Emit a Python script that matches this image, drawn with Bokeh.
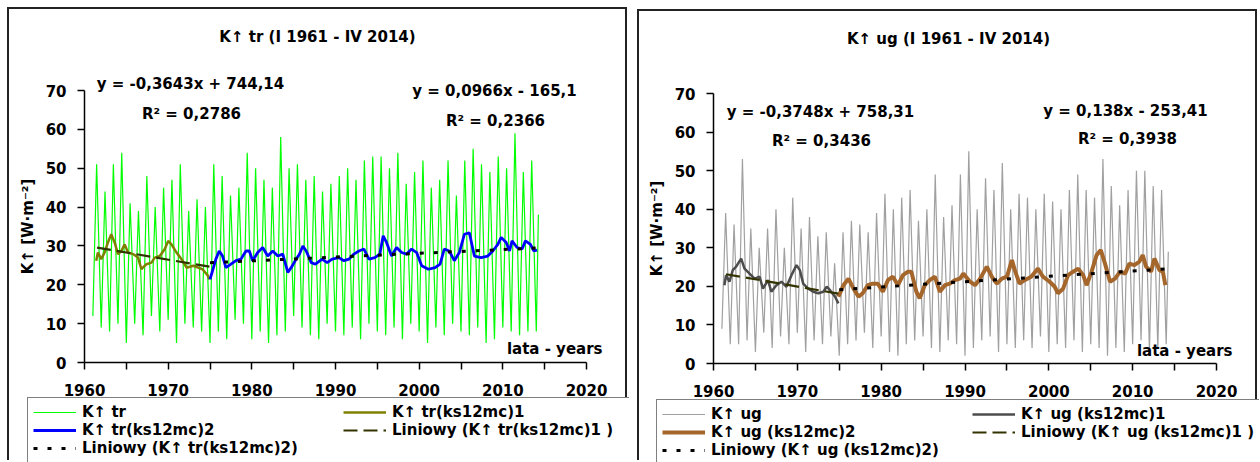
from bokeh.plotting import figure
from bokeh.models import FixedTicker, Label, Legend, LegendItem, Range1d
from bokeh.layouts import row
from bokeh.embed import file_html
from bokeh.resources import INLINE

FONT = "DejaVu Sans"

# ---------------- data ----------------
years = list(range(1961, 2015))

tr_low = [12, 9, 8, 10, 5, 10, 7, 12, 8, 11,
          5, 10, 9, 8, 5, 8, 6, 11, 10, 6,
          8, 5, 7, 8, 12, 9, 7, 6, 10, 8,
          7, 9, 6, 10, 8, 7, 9, 6, 10, 8,
          5, 9, 7, 10, 8, 7, 9, 5, 6, 9,
          8, 7, 8, 8]
tr_high = [51, 44, 51, 54, 41, 39, 48, 40, 45, 47,
           51, 39, 42, 40, 51, 48, 43, 45, 54, 50,
           47, 45, 58, 50, 51, 47, 48, 44, 46, 48,
           50, 47, 52, 53, 53, 50, 54, 46, 49, 52,
           45, 47, 52, 43, 52, 55, 51, 49, 53, 50,
           59, 49, 52, 38]

ug_low = [9, 5, 5, 6, 3, 8, 4, 7, 5, 8,
          3, 6, 5, 7, 2, 5, 6, 8, 4, 7,
          3, 2, 5, 6, 7, 4, 3, 6, 5, 2,
          4, 6, 7, 3, 5, 4, 6, 4, 7, 3,
          5, 4, 6, 3, 5, 4, 2, 4, 3, 5,
          6, 3, 4, 5]
ug_high = [39, 36, 53, 35, 30, 35, 40, 30, 43, 35,
           38, 33, 34, 26, 34, 37, 36, 34, 39, 44,
           40, 43, 45, 37, 40, 49, 38, 41, 49, 55,
           40, 48, 45, 52, 40, 44, 43, 40, 44, 42,
           40, 45, 49, 45, 43, 53, 46, 41, 45, 50,
           50, 46, 45, 29]

tr_ma1_x = [1961.4, 1961.6, 1962.0, 1962.4, 1962.8, 1963.2, 1963.6, 1964.0, 1964.4, 1964.8,
            1965.2, 1965.8, 1966.4, 1966.8, 1967.4, 1968.0, 1968.4, 1969.0, 1969.6, 1970.0,
            1970.4, 1971.0, 1971.6, 1972.2, 1973.0, 1973.6, 1974.1, 1974.7, 1974.95]
tr_ma1_y = [26.2, 28.3, 26.6, 28.3, 30.9, 33.0, 30.9, 27.9, 28.7, 30.4,
            28.3, 27.9, 27.0, 24.0, 25.3, 25.7, 27.0, 27.4, 29.2, 31.3,
            30.4, 28.3, 26.6, 24.4, 24.9, 24.4, 24.0, 22.5, 21.4]

tr_ma2_x = [1975.0, 1975.3, 1975.7, 1976.1, 1976.5, 1976.9, 1977.5, 1978.1, 1978.7, 1979.3,
            1979.7, 1980.1, 1980.7, 1981.3, 1981.9, 1982.5, 1983.1, 1983.7, 1984.3, 1984.7,
            1985.3, 1985.7, 1986.1, 1986.5, 1987.1, 1987.6, 1988.4, 1989.0, 1989.6, 1990.4,
            1991.0, 1991.6, 1992.2, 1992.8, 1993.4, 1994.0, 1994.7, 1995.3, 1995.7, 1996.1,
            1996.7, 1997.3, 1997.9, 1998.5, 1999.1, 1999.7, 2000.3, 2001.1, 2001.9, 2002.5,
            2003.0, 2003.6, 2004.2, 2004.8, 2005.4, 2006.0, 2006.6, 2007.4, 2008.2, 2008.8,
            2009.4, 2009.8, 2010.4, 2010.8, 2011.1, 2011.7, 2012.3, 2012.7, 2013.3, 2013.7,
            2014.1]
tr_ma2_y = [21.4, 23.6, 26.6, 28.7, 27.4, 24.4, 25.3, 26.2, 26.6, 28.7,
            28.7, 26.2, 28.3, 29.6, 27.4, 28.7, 27.4, 27.9, 23.2, 24.4,
            26.6, 27.9, 30.0, 28.7, 25.7, 25.3, 26.6, 25.7, 26.6, 27.0,
            26.2, 26.6, 27.9, 28.7, 29.2, 26.6, 27.0, 27.9, 32.6, 30.9,
            27.4, 29.6, 28.3, 27.9, 29.2, 28.3, 24.9, 24.0, 24.4, 25.3,
            29.2, 28.7, 26.2, 28.3, 33.0, 33.4, 27.4, 27.0, 27.4, 28.7,
            30.4, 32.2, 30.9, 28.7, 31.3, 29.6, 29.2, 31.3, 30.4, 28.7,
            28.9]

ug_ma1_x = [1961.3, 1961.5, 1961.9, 1962.3, 1962.7, 1963.3, 1963.7, 1964.3, 1964.9, 1965.5,
            1965.9, 1966.5, 1966.9, 1967.5, 1968.1, 1968.7, 1969.3, 1969.9, 1970.3, 1970.7,
            1971.3, 1971.9, 1972.5, 1973.1, 1973.5, 1973.9, 1974.5, 1974.9]
ug_ma1_y = [20.3, 22.9, 21.2, 24.2, 25.1, 27.2, 24.6, 23.3, 22.0, 22.5,
            19.4, 21.6, 18.6, 20.3, 21.2, 19.9, 22.9, 25.5, 24.2, 20.7,
            19.4, 18.6, 18.2, 18.6, 19.9, 19.0, 17.3, 15.6]

ug_ma2_x = [1974.9, 1975.5, 1976.1, 1976.7, 1977.3, 1977.8, 1978.4, 1979.0, 1979.6, 1980.2,
            1980.8, 1981.4, 1982.0, 1982.6, 1983.2, 1983.6, 1984.2, 1984.6, 1985.2, 1985.8,
            1986.4, 1987.0, 1987.6, 1988.2, 1988.8, 1989.4, 1989.8, 1990.6, 1991.2, 1991.8,
            1992.6, 1993.2, 1993.8, 1994.4, 1995.0, 1995.6, 1996.0, 1996.5, 1997.1, 1997.9,
            1998.7, 1999.3, 2000.1, 2000.7, 2001.1, 2001.7, 2002.3, 2002.9, 2003.5, 2004.1,
            2004.5, 2005.1, 2005.7, 2006.2, 2006.7, 2007.3, 2007.9, 2008.5, 2009.1, 2009.6,
            2010.2, 2010.8, 2011.2, 2011.6, 2012.2, 2012.6, 2013.2, 2013.6, 2013.9]
ug_ma2_y = [17.3, 20.3, 22.0, 19.4, 17.3, 18.2, 20.3, 20.7, 20.7, 18.6,
            21.6, 22.5, 20.3, 22.9, 23.8, 23.8, 18.6, 16.9, 20.3, 21.6,
            22.5, 18.6, 20.3, 20.7, 21.6, 22.0, 23.3, 21.2, 20.3, 22.0,
            25.1, 22.5, 20.7, 22.0, 22.5, 26.8, 23.8, 20.7, 21.6, 22.5,
            24.6, 22.5, 21.2, 19.9, 18.2, 19.4, 22.9, 23.8, 24.6, 22.9,
            20.3, 23.8, 28.1, 29.4, 25.9, 21.2, 22.0, 23.8, 23.3, 25.9,
            25.5, 26.4, 28.1, 25.1, 23.8, 27.2, 24.2, 23.8, 20.3]

# linear trends shown on the chart: slope, intercept, x-start, x-end
tr_trend1 = (-0.3643, 744.14, 1961.5, 1975.0)
tr_trend2 = (0.0966, -165.1, 1975.0, 2014.2)
ug_trend1 = (-0.3748, 758.31, 1961.5, 1975.0)
ug_trend2 = (0.138, -253.41, 1975.0, 2014.2)

x_major = [1960, 1970, 1980, 1990, 2000, 2010, 2020]
x_minor = [1965, 1975, 1985, 1995, 2005, 2015]
y_ticks = [0, 10, 20, 30, 40, 50, 60, 70]
X0, X1, Y0, Y1 = 1960, 2020, 0, 70


def seasonal(low, high):
    xs, ys = [], []
    for i, yr in enumerate(years):
        xs.append(yr)
        ys.append(low[i])
        xs.append(yr + (0.25 if yr == years[-1] else 0.45))
        ys.append(high[i])
    return xs, ys


def trend_line(t):
    a, b, x0, x1 = t
    return [x0, x1], [a * x0 + b, a * x1 + b]


def make_panel(cfg):
    W, H = 620, cfg["height"]
    CL, CT = cfg["canvas_left"], cfg["canvas_top"]
    CR, CB = CL + W, CT + H
    FL, FB, FT, FR = cfg["x1960"], cfg["y0"], cfg["y70"], cfg["x2020"]
    kx = (FR - FL) / (X1 - X0)
    ky = (FB - FT) / (Y1 - Y0)
    xr = Range1d(X0 - (FL - CL) / kx, X1 + (CR - FR) / kx)
    yr = Range1d(Y0 - (CB - FB) / ky, Y1 + (FT - CT) / ky)
    p = figure(width=W, height=H, x_range=xr, y_range=yr,
               output_backend="svg", toolbar_location=None,
               min_border=0, min_border_left=0, min_border_right=0,
               min_border_top=0, min_border_bottom=0,
               margin=cfg["margin"])
    p.styles = {"border-top": "2px solid #222", "border-left": "2px solid #222",
                "border-right": "2px solid #222"}
    p.outline_line_color = None
    p.xgrid.visible = False
    p.ygrid.visible = False
    p.background_fill_color = "white"
    p.border_fill_color = "white"

    for ax in (p.xaxis[0], p.yaxis[0]):
        ax.axis_line_width = 1.5
        ax.axis_line_color = "black"
        ax.major_tick_line_width = 1.5
        ax.minor_tick_line_width = 1.5
        ax.major_tick_out = 7
        ax.major_tick_in = 0
        ax.minor_tick_out = 7
        ax.minor_tick_in = 0
        ax.major_label_text_font = FONT
        ax.major_label_text_font_size = "15px"
        ax.major_label_text_font_style = "bold"
        ax.major_label_text_color = "black"
    p.xaxis.ticker = FixedTicker(ticks=x_major, minor_ticks=x_minor)
    p.yaxis.ticker = FixedTicker(ticks=y_ticks)
    p.xaxis.bounds = (X0, X1)
    p.yaxis.bounds = (Y0, Y1)
    p.xaxis.fixed_location = Y0
    p.yaxis.fixed_location = X0
    p.xaxis.major_label_standoff = 14
    p.yaxis.major_label_standoff = 11
    p.yaxis.axis_label = "K\u2191 [W\u00b7m\u207b\u00b2]"
    p.yaxis.axis_label_text_font = FONT
    p.yaxis.axis_label_text_font_size = "15px"
    p.yaxis.axis_label_text_font_style = "bold"
    p.yaxis.axis_label_text_color = "black"
    p.yaxis.axis_label_standoff = 6

    rx, ry = seasonal(cfg["low"], cfg["high"])
    r_raw = p.line(rx, ry, line_color=cfg["raw_color"], line_width=1.2)
    r_ma1 = p.line(cfg["ma1_x"], cfg["ma1_y"], line_color=cfg["ma1_color"], line_width=cfg["ma1_w"])
    r_ma2 = p.line(cfg["ma2_x"], cfg["ma2_y"], line_color=cfg["ma2_color"], line_width=cfg["ma2_w"])
    tx, ty = trend_line(cfg["t1"])
    r_t1 = p.line(tx, ty, line_color="#333300", line_width=2.2, line_dash="14 6")
    tx, ty = trend_line(cfg["t2"])
    r_t2 = p.line(tx, ty, line_color="black", line_width=3, line_dash="4 10")

    def lbl(ax, ay, text, align="center"):
        p.add_layout(Label(x=ax - CL, y=CB - ay, x_units="screen", y_units="screen",
                           text=text, text_align=align, text_baseline="middle",
                           text_font=FONT, text_font_size="15px", text_font_style="bold",
                           text_color="black"))

    lbl(*cfg["title_pos"], cfg["title"])
    lbl(*cfg["eq1_pos"], cfg["eq1"])
    lbl(*cfg["r1_pos"], cfg["r1"])
    lbl(*cfg["eq2_pos"], cfg["eq2"])
    lbl(*cfg["r2_pos"], cfg["r2"])
    lbl(*cfg["years_pos"], "lata - years", align="right")

    names = cfg["names"]
    rends = [r_raw, r_ma1, r_ma2, r_t1, r_t2]
    leg_h = 62
    leg = Legend(items=[LegendItem(label=n, renderers=[r]) for n, r in zip(names, rends)],
                 orientation="horizontal", ncols=2,
                 location=(cfg["legend_left"] - CL, CB - (cfg["legend_top"] + leg_h)),
                 label_text_font=FONT, label_text_font_size="15px",
                 label_text_font_style="bold", label_text_color="black",
                 glyph_width=43, glyph_height=16, label_height=16, label_width=261,
                 label_standoff=6, spacing=0, padding=5, margin=0,
                 border_line_color="black", border_line_width=1,
                 background_fill_color="white", background_fill_alpha=1)
    p.add_layout(leg)
    return p


left_cfg = dict(
    height=453, margin=(7, 0, 0, 7),
    canvas_left=9, canvas_top=9,
    x1960=84, x2020=586, y0=362, y70=90,
    low=tr_low, high=tr_high, raw_color="#00ff00",
    ma1_x=tr_ma1_x, ma1_y=tr_ma1_y, ma1_color="#808000", ma1_w=2.5,
    ma2_x=tr_ma2_x, ma2_y=tr_ma2_y, ma2_color="#0000ff", ma2_w=2.8,
    t1=tr_trend1, t2=tr_trend2,
    title="K\u2191 tr (I 1961 - IV 2014)", title_pos=(317, 36),
    eq1="y = -0,3643x + 744,14", eq1_pos=(190, 83),
    r1="R\u00b2 = 0,2786", r1_pos=(191, 113),
    eq2="y = 0,0966x - 165,1", eq2_pos=(494, 90),
    r2="R\u00b2 = 0,2366", r2_pos=(495, 120),
    years_pos=(602, 348),
    names=["K\u2191 tr", "K\u2191 tr(ks12mc)1", "K\u2191 tr(ks12mc)2",
           "Liniowy (K\u2191 tr(ks12mc)1 )", "Liniowy (K\u2191 tr(ks12mc)2)"],
    legend_left=27, legend_top=401,
)

right_cfg = dict(
    height=451, margin=(9, 0, 0, 10),
    canvas_left=639, canvas_top=11,
    x1960=713, x2020=1216, y0=363, y70=93,
    low=ug_low, high=ug_high, raw_color="#a0a0a0",
    ma1_x=ug_ma1_x, ma1_y=ug_ma1_y, ma1_color="#4d4d4d", ma1_w=2.5,
    ma2_x=ug_ma2_x, ma2_y=ug_ma2_y, ma2_color="#a5662c", ma2_w=4,
    t1=ug_trend1, t2=ug_trend2,
    title="K\u2191 ug (I 1961 - IV 2014)", title_pos=(948, 38),
    eq1="y = -0,3748x + 758,31", eq1_pos=(820, 111),
    r1="R\u00b2 = 0,3436", r1_pos=(821, 140),
    eq2="y = 0,138x - 253,41", eq2_pos=(1125, 110),
    r2="R\u00b2 = 0,3938", r2_pos=(1127, 138),
    years_pos=(1232, 350),
    names=["K\u2191 ug", "K\u2191 ug (ks12mc)1", "K\u2191 ug (ks12mc)2",
           "Liniowy (K\u2191 ug (ks12mc)1 )", "Liniowy (K\u2191 ug (ks12mc)2)"],
    legend_left=656, legend_top=403,
)

p1 = make_panel(left_cfg)
p2 = make_panel(right_cfg)
layout = row(p1, p2, spacing=0)

open("out.html", "w").write(file_html(layout, INLINE))
